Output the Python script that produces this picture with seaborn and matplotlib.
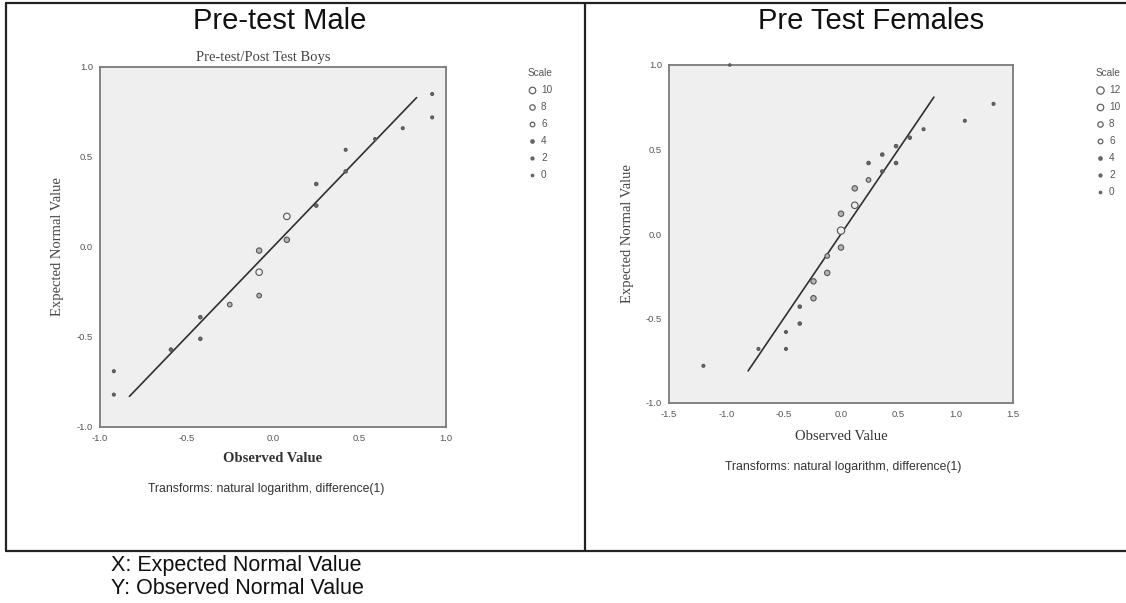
import matplotlib
matplotlib.use("Agg")
import matplotlib.pyplot as plt
from matplotlib.lines import Line2D
import seaborn as sns
import pandas as pd

# ---------------- data ----------------
male_x = [0.92, 0.92, 0.75, 0.59, 0.42, 0.42, 0.25, 0.25, 0.08, 0.08,
          -0.08, -0.08, -0.08, -0.25, -0.42, -0.42, -0.59, -0.92, -0.92]
male_y = [0.85, 0.72, 0.66, 0.60, 0.54, 0.42, 0.35, 0.23, 0.17, 0.04,
          -0.02, -0.14, -0.27, -0.32, -0.39, -0.51, -0.57, -0.69, -0.82]
male_scale = [2, 2, 2, 2, 2, 4, 4, 4, 10, 8, 8, 10, 6, 6, 4, 4, 4, 2, 2]

female_x = [-1.20, -0.72, -0.48, -0.48, -0.36, -0.36, -0.24, -0.24, -0.12, -0.12,
            0.00, 0.00, 0.00, 0.12, 0.12, 0.24, 0.24, 0.36, 0.36, 0.48,
            0.48, 0.60, 0.72, 1.08, 1.33, -0.97]
female_y = [-0.78, -0.68, -0.58, -0.68, -0.43, -0.53, -0.28, -0.38, -0.13, -0.23,
            0.12, 0.02, -0.08, 0.27, 0.17, 0.42, 0.32, 0.47, 0.37, 0.52,
            0.42, 0.57, 0.62, 0.67, 0.77, 1.00]
female_scale = [2, 2, 2, 2, 4, 4, 8, 8, 6, 8,
                8, 12, 8, 8, 10, 4, 6, 4, 4, 4,
                4, 4, 2, 2, 2, 0]

male_line_x = [-0.83, 0.83]
male_line_y = [-0.83, 0.83]
female_line_x = [-0.81, 0.81]
female_line_y = [-0.81, 0.81]

male_ticks = [-1.0, -0.5, 0.0, 0.5, 1.0]
female_xticks = [-1.5, -1.0, -0.5, 0.0, 0.5, 1.0, 1.5]
female_yticks = [-1.0, -0.5, 0.0, 0.5, 1.0]

male_legend = [10, 8, 6, 4, 2, 0]
female_legend = [12, 10, 8, 6, 4, 2, 0]

# ---------------- style ----------------
sns.set_style("white")
plt.rcParams['font.family'] = ['Liberation Sans', 'DejaVu Sans']

W, H = 1126, 603
fig = plt.figure(figsize=(W / 100, H / 100), dpi=100)

SERIF = ['Liberation Serif', 'DejaVu Serif']
SANS = ['Liberation Sans', 'DejaVu Sans']
BG = '#efefef'
EDGE = '#555555'
size_map = {0: 3, 2: 4.5, 4: 6, 6: 11, 8: 15, 10: 22, 12: 28}


def face_for(v):
    if v <= 4:
        return '#6a6a6a'
    if v <= 8:
        return '#b5b5b5'
    return BG


def fx(px):
    return px / W


def fy(py):
    return 1 - py / H


def style_axes(ax):
    ax.set_facecolor(BG)
    for s in ax.spines.values():
        s.set_color('#7a7a7a')
        s.set_linewidth(1.3)
    ax.tick_params(axis='both', direction='out', length=3, width=1,
                   color='#7a7a7a', labelsize=6.8, labelcolor='#555555', pad=2)


def draw_points(ax, x, y, scale):
    df = pd.DataFrame({'x': x, 'y': y, 'scale': scale})
    sns.scatterplot(data=df, x='x', y='y', size='scale', sizes=size_map,
                    legend=False, ax=ax, zorder=3, clip_on=False)
    coll = ax.collections[-1]
    coll.set_facecolor([face_for(v) for v in scale])
    coll.set_edgecolor(EDGE)
    coll.set_linewidth(0.8)


def add_legend(ax, values, x0, y0):
    handles = [Line2D([], [], linestyle='none', marker='o',
                      markersize=(size_map[v]) ** 0.5,
                      markerfacecolor=face_for(v) if v <= 4 else 'white',
                      markeredgecolor='#606060',
                      markeredgewidth=0.9) for v in values]
    leg = ax.legend(handles, [str(v) for v in values], title='Scale',
                    loc='upper left', bbox_to_anchor=(fx(x0), fy(y0)),
                    bbox_transform=fig.transFigure, frameon=False,
                    fontsize=7.2, title_fontsize=7.2, handlelength=0.8,
                    handletextpad=0.5, labelspacing=0.7, borderpad=0,
                    borderaxespad=0, alignment='left')
    for t in leg.get_texts():
        t.set_color('#555555')
    leg.get_title().set_color('#555555')


# ---------------- left panel ----------------
axL = fig.add_axes([fx(100), fy(427), fx(446) - fx(100), fy(67) - fy(427)])
style_axes(axL)
draw_points(axL, male_x, male_y, male_scale)
sns.lineplot(x=male_line_x, y=male_line_y, ax=axL, color='#303030', lw=1.2, zorder=2)
axL.set_xlim(-1.0, 1.0)
axL.set_ylim(-1.0, 1.0)
axL.set_xticks(male_ticks)
axL.set_yticks(male_ticks)
axL.set_xticklabels([f"{t:.1f}" for t in male_ticks])
axL.set_yticklabels([f"{t:.1f}" for t in male_ticks])
axL.set_xlabel('Observed Value', family=SERIF, fontsize=10.5, fontweight='bold', color='#333333')
axL.xaxis.set_label_coords(0.5, -(459 - 427) / 360)
axL.xaxis.label.set_va('center')
axL.set_ylabel('Expected Normal Value', family=SERIF, fontsize=10.5, color='#444444')
axL.yaxis.set_label_coords(-(100 - 58) / 346, 0.5)
axL.yaxis.label.set_va('center')
add_legend(axL, male_legend, 528, 68)

# ---------------- right panel ----------------
axR = fig.add_axes([fx(669), fy(403), fx(1013) - fx(669), fy(65) - fy(403)])
style_axes(axR)
draw_points(axR, female_x, female_y, female_scale)
sns.lineplot(x=female_line_x, y=female_line_y, ax=axR, color='#303030', lw=1.2, zorder=2)
axR.set_xlim(-1.5, 1.5)
axR.set_ylim(-1.0, 1.0)
axR.set_xticks(female_xticks)
axR.set_yticks(female_yticks)
axR.set_xticklabels([f"{t:.1f}" for t in female_xticks])
axR.set_yticklabels([f"{t:.1f}" for t in female_yticks])
axR.set_xlabel('Observed Value', family=SERIF, fontsize=10.5, color='#333333')
axR.xaxis.set_label_coords(0.5, -(437 - 403) / 338)
axR.xaxis.label.set_va('center')
axR.set_ylabel('Expected Normal Value', family=SERIF, fontsize=10.5, color='#444444')
axR.yaxis.set_label_coords(-(669 - 627) / 344, 0.5)
axR.yaxis.label.set_va('center')
add_legend(axR, female_legend, 1096, 68)

# ---------------- texts ----------------
fig.text(fx(280), fy(21), 'Pre-test Male', ha='center', va='center',
         fontsize=21, family=SANS, color='#111111')
fig.text(fx(871), fy(21), 'Pre Test Females', ha='center', va='center',
         fontsize=21, family=SANS, color='#111111')
fig.text(fx(263), fy(57), 'Pre-test/Post Test Boys', ha='center', va='center',
         fontsize=10.5, family=SERIF, color='#444444')
fig.text(fx(266), fy(489), 'Transforms: natural logarithm, difference(1)',
         ha='center', va='center', fontsize=8.8, family=SANS, color='#333333')
fig.text(fx(843), fy(467), 'Transforms: natural logarithm, difference(1)',
         ha='center', va='center', fontsize=8.8, family=SANS, color='#333333')
fig.text(fx(111), fy(565), 'X: Expected Normal Value', ha='left', va='center',
         fontsize=15.5, family=SANS, color='#111111')
fig.text(fx(111), fy(589), 'Y: Observed Normal Value', ha='left', va='center',
         fontsize=15.5, family=SANS, color='#111111')

# ---------------- outer frame ----------------
frame_kw = dict(transform=fig.transFigure, color='#222222', lw=1.6)
fig.add_artist(Line2D([fx(6), 1.0], [fy(3), fy(3)], **frame_kw))
fig.add_artist(Line2D([fx(6), 1.0], [fy(551), fy(551)], **frame_kw))
fig.add_artist(Line2D([fx(6), fx(6)], [fy(3), fy(551)], **frame_kw))
fig.add_artist(Line2D([fx(585), fx(585)], [fy(3), fy(551)], **frame_kw))

fig.savefig('out.png', dpi=100, facecolor='white')
